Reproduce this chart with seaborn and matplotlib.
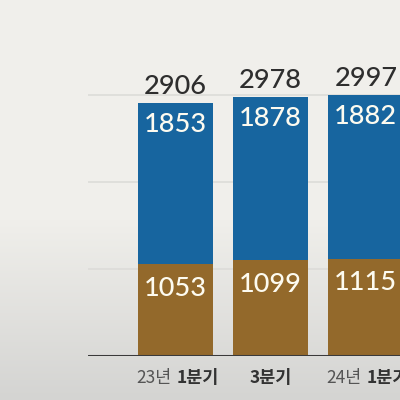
import numpy as np
import pandas as pd
import matplotlib
matplotlib.use("Agg")
import matplotlib.pyplot as plt
import seaborn as sns

# data
years = ["23년", "", "24년"]
quarters = ["1분기", "3분기", "1분기"]
lower = [1053, 1099, 1115]
upper = [1853, 1878, 1882]
totals = [2906, 2978, 2997]
grid_vals = [1000, 2000, 3000]

BLUE = "#17659f"
BROWN = "#93692b"

sns.set_theme(style="white")
plt.rcParams['font.family'] = ['Lato', 'DejaVu Sans']

df = pd.DataFrame({
    "q": [f"{y} {q}".strip() for y, q in zip(years, quarters)],
    "lower": lower,
    "stack": [a + b for a, b in zip(lower, upper)],
})

fig = plt.figure(figsize=(4, 4), dpi=100)

# background gradient
bg = fig.add_axes([0, 0, 1, 1], zorder=-10)
grad = np.linspace(0, 1, 400)
top = np.array([240, 239, 235]) / 255
bot = np.array([212, 212, 210]) / 255
w = np.clip((grad - 0.55) / 0.45, 0, 1)[:, None]
img = top * (1 - w) + bot * w
bg.imshow(img[:, None, :], aspect="auto", extent=[0, 1, 0, 1], origin="upper")
bg.axis("off")

ax = fig.add_axes([88 / 400, 44 / 400, 312 / 400, 356 / 400])
ax.patch.set_alpha(0)

for g in grid_vals:
    ax.axhline(g, color="#dcdcd8", lw=1.2, zorder=0)

sns.barplot(data=df, x="q", y="stack", color=BLUE, width=0.79,
            saturation=1, linewidth=0, ax=ax, zorder=2)
sns.barplot(data=df, x="q", y="lower", color=BROWN, width=0.79,
            saturation=1, linewidth=0, ax=ax, zorder=3)

ax.set_xlim(-0.92, 2.36)
ax.set_ylim(0, 4092)
ax.axhline(0, color="#3a3a3a", lw=2.2, zorder=5)

for s in ax.spines.values():
    s.set_visible(False)
ax.set_xticks([])
ax.set_yticks([])
ax.set_xlabel("")
ax.set_ylabel("")

for i in range(len(totals)):
    stack = lower[i] + upper[i]
    ax.annotate(str(totals[i]), (i, stack), xytext=(0, 4), textcoords="offset pixels",
                ha="center", va="bottom", fontsize=19.5, color="#2e2e2e",
                fontweight="medium", zorder=6)
    ax.annotate(str(upper[i]), (i, stack), xytext=(0, -21), textcoords="offset pixels",
                ha="center", va="center", fontsize=19.5, color="#fdfbf0",
                fontweight="medium", zorder=6)
    ax.annotate(str(lower[i]), (i, lower[i]), xytext=(0, -24), textcoords="offset pixels",
                ha="center", va="center", fontsize=19.5, color="#fdfbf0",
                fontweight="medium", zorder=6)

    # x labels: year in light weight, quarter in bold
    if years[i]:
        ax.annotate(years[i], (i, 0), xytext=(-4, -22), textcoords="offset pixels",
                    ha="right", va="center", fontsize=12.5, color="#555555",
                    family=["Noto Sans CJK KR", "DejaVu Sans"], annotation_clip=False)
        ax.annotate(quarters[i], (i, 0), xytext=(1, -22), textcoords="offset pixels",
                    ha="left", va="center", fontsize=12.5, color="#333333",
                    fontweight="bold", family=["Noto Sans CJK KR", "DejaVu Sans"],
                    annotation_clip=False)
    else:
        ax.annotate(quarters[i], (i, 0), xytext=(0, -22), textcoords="offset pixels",
                    ha="center", va="center", fontsize=12.5, color="#333333",
                    fontweight="bold", family=["Noto Sans CJK KR", "DejaVu Sans"],
                    annotation_clip=False)

fig.savefig("out.png", dpi=100)
